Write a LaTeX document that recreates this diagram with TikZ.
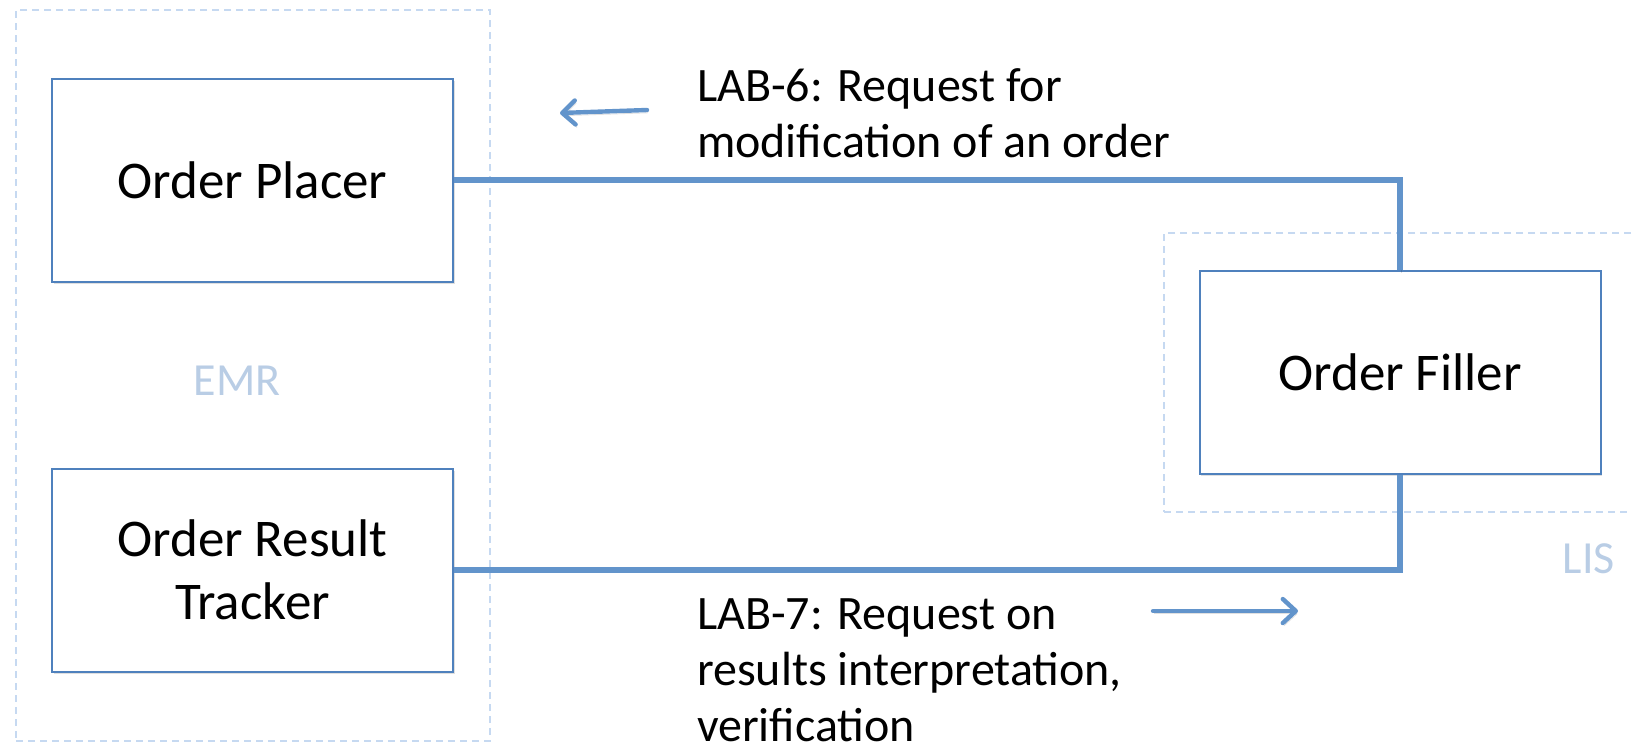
\documentclass[tikz,border=0pt]{standalone}
\usepackage{fontspec}
\setmainfont{Carlito}
\usetikzlibrary{arrows.meta, shadows, positioning}
\definecolor{boxblue}{RGB}{79,129,189}
\definecolor{lineblue}{RGB}{98,148,203}
\definecolor{groupblue}{RGB}{198,217,241}
\definecolor{grouptext}{RGB}{185,205,229}
\tikzset{
    actor/.style={rectangle, draw=boxblue, line width=1pt, fill=white, minimum width=200.5pt, minimum height=101.5pt, align=center, font=\fontsize{26.5}{31.5}\selectfont, drop shadow={shadow xshift=0.8pt, shadow yshift=-1.2pt, opacity=0.25}},
    group/.style={rectangle, draw=groupblue, line width=0.75pt, dash pattern=on 3.5pt off 2.5pt},
    groupLabel/.style={text=grouptext, font=\fontsize{23}{28}\selectfont},
    transLabel/.style={anchor=west, align=left, font=\fontsize{24}{28}\selectfont},
    lineShadow/.style={preaction={draw=black, opacity=0.12, transform canvas={xshift=0.6pt, yshift=-1.4pt}}},
    transLink/.style={draw=lineblue, line width=3pt, lineShadow},
    transDir/.style={draw=lineblue, line width=2.2pt, line cap=round, lineShadow, -{Straight Barb[length=6.5pt, width=12pt, round]}},
}

\begin{document}
\begin{tikzpicture}[x=0.5pt, y=-0.5pt]
    \useasboundingbox (0,0) rectangle (1632,746);
    \clip (0,0) rectangle (1632,746);

    % groups
    \node[group, minimum width=237pt, minimum height=365.5pt] (emr) at (253, 375.5) {};
    \node[group, minimum width=248pt, minimum height=139.5pt] (lis) at (1412, 372.5) {};
    \node[groupLabel] (emrLabel) at (237, 381) {EMR};
    \node[groupLabel] (lisLabel) at (1589, 559) {LIS};

    % actors
    \node[actor] (placer) at (252.5, 180) {Order Placer};
    \node[actor] (tracker) at (252.5, 570) {Order Result\\Tracker};
    \node[actor] (filler) at (1400, 372.5) {Order Filler};

    % transactions
    \draw[transLink] (placer.east) -| (filler.north);
    \draw[transLink] (tracker.east) -| (filler.south);

    \node[transLabel] (lab6) at (690, 113) {LAB-6: Request for\\modification of an order};
    \node[transLabel] (lab7) at (690, 670) {LAB-7: Request on\\results interpretation,\\verification};

    \coordinate (lab6from) at (647, 110);
    \coordinate (lab6to) at (560, 113);
    \coordinate (lab7from) at (1153, 611);
    \coordinate (lab7to) at (1298, 611);
    \draw[transDir] (lab6from) -- (lab6to);
    \draw[transDir] (lab7from) -- (lab7to);

\end{tikzpicture}
\end{document}
